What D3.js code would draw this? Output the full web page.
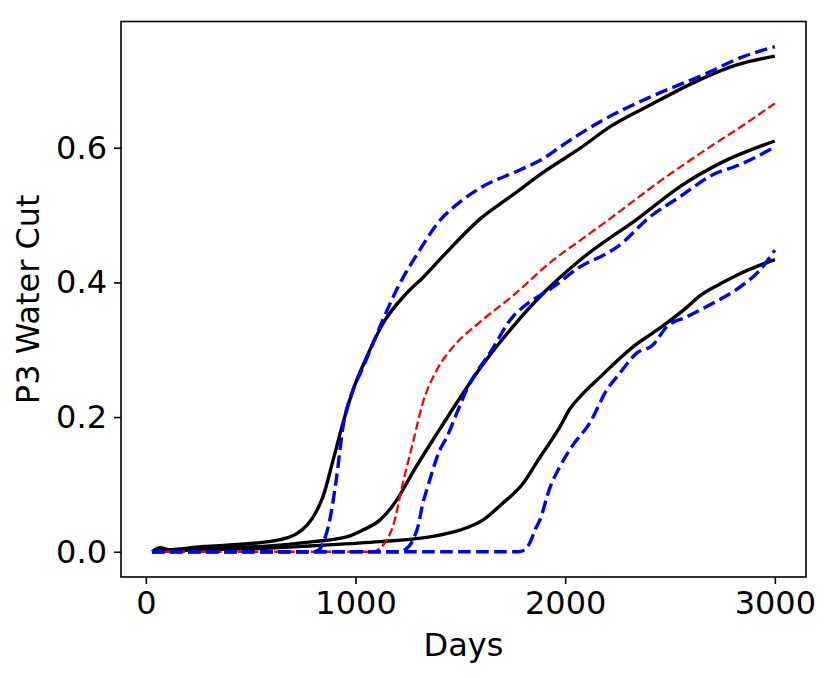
<!DOCTYPE html>
<html>
<head>
<meta charset="utf-8">
<title>P3 Water Cut</title>
<style>
  body { margin: 0; background: #fff; }
  text { font-family: "DejaVu Sans", sans-serif; }
</style>
</head>
<body>
<div id="chart"></div>
<script src="https://cdn.jsdelivr.net/npm/d3@7"></script>
<script>
// values: [day, water cut]
var blackA = [[30,0],[67,0.006],[110,0.003],[250,0.007],[400,0.010],[557,0.014],[640,0.018],[720,0.027],[770,0.040],[810,0.058],[845,0.082],[893,0.136],[940,0.191],[988,0.240],[1053,0.289],[1131,0.339],[1244,0.384],[1321,0.407],[1435,0.445],[1593,0.494],[1750,0.530],[1912,0.567],[2070,0.599],[2213,0.631],[2403,0.663],[2656,0.703],[2818,0.723],[3000,0.736]];
var blueA = [[30,0],[800,0],[830,0.004],[845,0.013],[877,0.047],[910,0.111],[940,0.185],[988,0.240],[1036,0.274],[1116,0.334],[1196,0.389],[1306,0.448],[1402,0.492],[1480,0.515],[1593,0.540],[1784,0.567],[1879,0.581],[2022,0.611],[2180,0.641],[2389,0.673],[2656,0.708],[2847,0.735],[3000,0.750]];
var redRef = [[30,0],[1080,0],[1116,0.005],[1150,0.018],[1178,0.037],[1226,0.102],[1273,0.161],[1321,0.221],[1388,0.270],[1465,0.304],[1593,0.341],[1750,0.380],[1942,0.433],[2070,0.462],[2198,0.491],[2322,0.520],[2451,0.550],[2580,0.578],[2704,0.604],[2833,0.630],[3000,0.666]];
var blackB = [[30,0],[250,0.005],[557,0.008],[800,0.015],[958,0.022],[1040,0.033],[1116,0.047],[1197,0.077],[1273,0.118],[1402,0.182],[1512,0.235],[1593,0.272],[1750,0.334],[1912,0.389],[2070,0.433],[2356,0.497],[2546,0.542],[2752,0.579],[3000,0.610]];
var blueB = [[30,0],[1200,0],[1240,0.004],[1273,0.017],[1300,0.040],[1321,0.072],[1340,0.092],[1402,0.151],[1435,0.170],[1483,0.206],[1545,0.250],[1593,0.274],[1640,0.295],[1750,0.349],[1798,0.363],[1942,0.393],[2070,0.423],[2198,0.443],[2245,0.452],[2403,0.497],[2546,0.527],[2704,0.560],[2833,0.575],[3000,0.601]];
var blackC = [[30,0],[250,0.003],[557,0.005],[800,0.009],[1116,0.015],[1354,0.022],[1497,0.032],[1607,0.047],[1702,0.072],[1798,0.101],[1879,0.140],[1974,0.185],[2022,0.212],[2070,0.230],[2165,0.259],[2322,0.304],[2437,0.329],[2580,0.363],[2642,0.380],[2740,0.398],[2833,0.413],[3000,0.434]];
var blueC = [[30,0],[1780,0],[1810,0.004],[1831,0.013],[1860,0.035],[1879,0.047],[1927,0.095],[1974,0.126],[2036,0.158],[2117,0.191],[2198,0.240],[2260,0.265],[2341,0.295],[2418,0.307],[2484,0.334],[2580,0.349],[2704,0.369],[2833,0.393],[2928,0.418],[3000,0.448]];

var xTicks = [0, 1000, 2000, 3000];
var yTicks = [0, 0.2, 0.4, 0.6];
var xTitle = 'Days', yTitle = 'P3 Water Cut';

var W = 831, H = 678;
var pLeft = 121, pRight = 806, pTop = 21.5, pBottom = 577;

var svg = d3.select('#chart')
.append('svg')
.attr('width', W)
.attr('height', H);

var all = [].concat(blackA, blueA, redRef, blackB, blueB, blackC, blueC);
var xMin = d3.min(all, d => d[0]), xMax = d3.max(all, d => d[0]);
var yMin = d3.min(all, d => d[1]), yMax = d3.max(all, d => d[1]);
var xPad = (xMax - xMin) * 0.05, yPad = (yMax - yMin) * 0.05;

var xScale = d3.scaleLinear()
.domain([xMin - xPad, xMax + xPad])
.range([pLeft, pRight]);

var yScale = d3.scaleLinear()
.domain([yMin - yPad, yMax + yPad])
.range([pBottom, pTop]);

var line = d3.line()
.x(d => xScale(d[0]))
.y(d => yScale(d[1]))
.curve(d3.curveMonotoneX);

var plot = svg.append('g');

// black solid first, red over it, blue dashed on top
[blackA, blackB, blackC].forEach(s => {
    plot.append('path')
    .attr('d', line(s))
    .attr('fill', 'none')
    .attr('stroke', '#000')
    .attr('stroke-width', 3.4);
});

plot.append('path')
.attr('d', line(redRef))
.attr('fill', 'none')
.attr('stroke', '#ff0000')
.attr('stroke-width', 2.3)
.attr('stroke-dasharray', '8.5,3.7');

[blueA, blueB, blueC].forEach(s => {
    plot.append('path')
    .attr('d', line(s))
    .attr('fill', 'none')
    .attr('stroke', '#0000ff')
    .attr('stroke-width', 3.4)
    .attr('stroke-dasharray', '12.6,5.4');
});

// frame
svg.append('rect')
.attr('x', pLeft)
.attr('y', pTop)
.attr('width', pRight - pLeft)
.attr('height', pBottom - pTop)
.attr('fill', 'none')
.attr('stroke', '#000')
.attr('stroke-width', 1.6);

var xAxis = svg.append('g')
.attr('transform', 'translate(0,' + pBottom + ')')
.call(d3.axisBottom(xScale).tickValues(xTicks).tickSize(7).tickPadding(7).tickFormat(d3.format('d')));

var yAxis = svg.append('g')
.attr('transform', 'translate(' + pLeft + ',0)')
.call(d3.axisLeft(yScale).tickValues(yTicks).tickSize(7).tickPadding(7).tickFormat(d3.format('.1f')));

[xAxis, yAxis].forEach(a => {
    a.select('.domain').remove();
    a.selectAll('line').attr('stroke', '#000').attr('stroke-width', 1.6);
    a.selectAll('text')
    .attr('fill', '#000')
    .style('font-family', '"DejaVu Sans", sans-serif')
    .style('font-size', '32px');
});

svg.append('text')
.attr('x', (pLeft + pRight) / 2)
.attr('y', 656)
.attr('text-anchor', 'middle')
.style('font-size', '32px')
.text(xTitle);

svg.append('text')
.attr('transform', 'translate(39,' + ((pTop + pBottom) / 2) + ') rotate(-90)')
.attr('text-anchor', 'middle')
.style('font-size', '32px')
.text(yTitle);
</script>
</body>
</html>
